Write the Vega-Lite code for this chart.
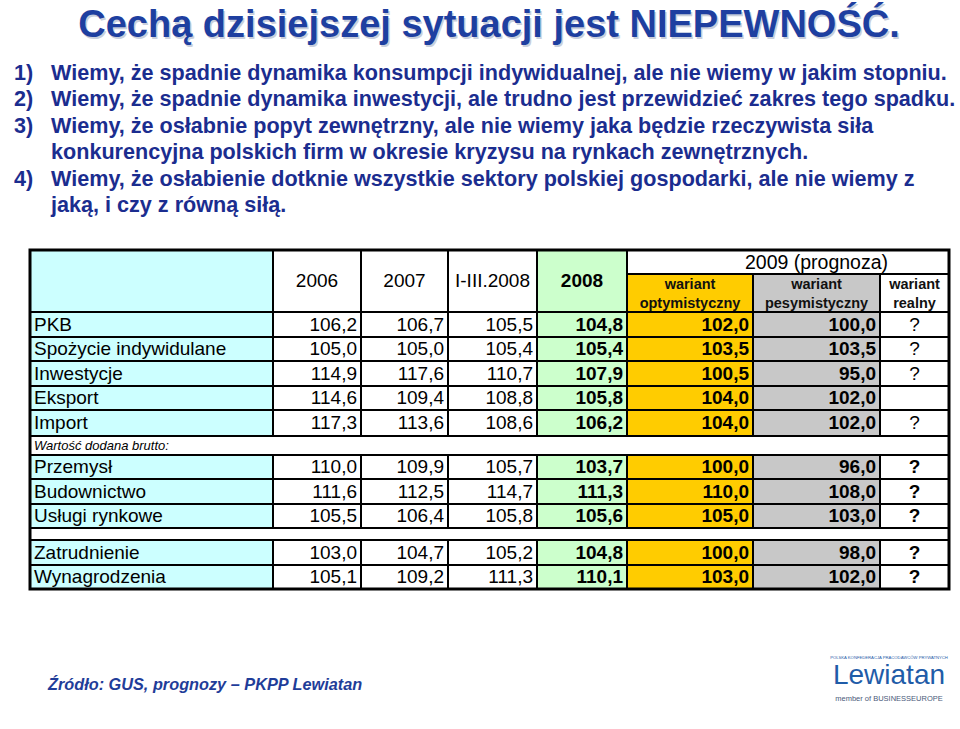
{
  "$schema": "https://vega.github.io/schema/vega-lite/v6.json",
  "width": 960,
  "height": 729,
  "autosize": {"type": "none"},
  "padding": 0,
  "background": "#ffffff",
  "config": {
    "view": {"stroke": null},
    "locale": {"number": {"decimal": ",", "thousands": " ", "grouping": [3], "currency": ["", ""]}},
    "text": {"font": "Liberation Sans"}
  },
  "datasets": {
    "lines": [
      {"kind": "title", "line": 0, "num": "", "text": "Cechą dzisiejszej sytuacji jest NIEPEWNOŚĆ."},
      {"kind": "bullet", "line": 1, "num": "1)", "text": "Wiemy, że spadnie dynamika konsumpcji indywidualnej, ale nie wiemy w jakim stopniu."},
      {"kind": "bullet", "line": 2, "num": "2)", "text": "Wiemy, że spadnie dynamika inwestycji, ale trudno jest przewidzieć zakres tego spadku."},
      {"kind": "bullet", "line": 3, "num": "3)", "text": "Wiemy, że osłabnie popyt zewnętrzny, ale nie wiemy jaka będzie rzeczywista siła"},
      {"kind": "bullet", "line": 4, "num": "", "text": "konkurencyjna polskich firm w okresie kryzysu na rynkach zewnętrznych."},
      {"kind": "bullet", "line": 5, "num": "4)", "text": "Wiemy, że osłabienie dotknie wszystkie sektory polskiej gospodarki, ale nie wiemy z"},
      {"kind": "bullet", "line": 6, "num": "", "text": "jaką, i czy z równą siłą."},
      {"kind": "logo-small", "line": 7, "num": "", "text": "POLSKA KONFEDERACJA PRACODAWCÓW PRYWATNYCH"},
      {"kind": "logo", "line": 8, "num": "", "text": "Lewiatan"},
      {"kind": "source", "line": 9, "num": "", "text": "Źródło: GUS, prognozy – PKPP Lewiatan"},
      {"kind": "logo-member", "line": 10, "num": "", "text": "member of BUSINESSEUROPE"}
    ],
    "header": [
      {"key": "label", "text": "", "c": 0, "c2": 1, "r": 0, "r2": 2},
      {"key": "v2006", "text": "2006", "c": 1, "c2": 2, "r": 0, "r2": 2},
      {"key": "v2007", "text": "2007", "c": 2, "c2": 3, "r": 0, "r2": 2},
      {"key": "vq", "text": "I-III.2008", "c": 3, "c2": 4, "r": 0, "r2": 2},
      {"key": "v2008", "text": "2008", "c": 4, "c2": 5, "r": 0, "r2": 2},
      {"key": "prog", "text": "2009 (prognoza)", "c": 5, "c2": 8, "r": 0, "r2": 1},
      {"key": "opt", "text": "wariant\noptymistyczny", "c": 5, "c2": 6, "r": 1, "r2": 2},
      {"key": "pes", "text": "wariant\npesymistyczny", "c": 6, "c2": 7, "r": 1, "r2": 2},
      {"key": "real", "text": "wariant\nrealny", "c": 7, "c2": 8, "r": 1, "r2": 2}
    ],
    "rows": [
      {"kind": "data", "label": "PKB", "v2006": 106.2, "v2007": 106.7, "vq": 105.5, "v2008": 104.8, "opt": 102.0, "pes": 100.0, "real": "?"},
      {"kind": "data", "label": "Spożycie indywidulane", "v2006": 105.0, "v2007": 105.0, "vq": 105.4, "v2008": 105.4, "opt": 103.5, "pes": 103.5, "real": "?"},
      {"kind": "data", "label": "Inwestycje", "v2006": 114.9, "v2007": 117.6, "vq": 110.7, "v2008": 107.9, "opt": 100.5, "pes": 95.0, "real": "?"},
      {"kind": "data", "label": "Eksport", "v2006": 114.6, "v2007": 109.4, "vq": 108.8, "v2008": 105.8, "opt": 104.0, "pes": 102.0, "real": ""},
      {"kind": "data", "label": "Import", "v2006": 117.3, "v2007": 113.6, "vq": 108.6, "v2008": 106.2, "opt": 104.0, "pes": 102.0, "real": "?"},
      {"kind": "section", "label": "Wartość dodana brutto:"},
      {"kind": "data", "label": "Przemysł", "v2006": 110.0, "v2007": 109.9, "vq": 105.7, "v2008": 103.7, "opt": 100.0, "pes": 96.0, "real": "?"},
      {"kind": "data", "label": "Budownictwo", "v2006": 111.6, "v2007": 112.5, "vq": 114.7, "v2008": 111.3, "opt": 110.0, "pes": 108.0, "real": "?"},
      {"kind": "data", "label": "Usługi rynkowe", "v2006": 105.5, "v2007": 106.4, "vq": 105.8, "v2008": 105.6, "opt": 105.0, "pes": 103.0, "real": "?"},
      {"kind": "blank", "label": ""},
      {"kind": "data", "label": "Zatrudnienie", "v2006": 103.0, "v2007": 104.7, "vq": 105.2, "v2008": 104.8, "opt": 100.0, "pes": 98.0, "real": "?"},
      {"kind": "data", "label": "Wynagrodzenia", "v2006": 105.1, "v2007": 109.2, "vq": 111.3, "v2008": 110.1, "opt": 103.0, "pes": 102.0, "real": "?"}
    ]
  },
  "layer": [
    {
      "data": {"name": "lines"},
      "layer": [
        {
          "transform": [{"filter": "datum.kind === 'title'"}],
          "mark": {"type": "text", "align": "center", "baseline": "alphabetic", "fontSize": 38, "fontWeight": "bold", "color": "#c9cfdc", "dx": 10.5, "dy": 1.5},
          "encoding": {
            "y": {"field": "line", "type": "quantitative", "axis": null, "scale": {"type": "linear", "domain": [0,1,2,3,4,5,6,7,8,9,10], "range": [37,80,106,133,159,186,212,659,684,690,701], "nice": false, "zero": false}},
            "text": {"field": "text"}
          }
        },
        {
          "transform": [{"filter": "datum.kind === 'title'"}],
          "mark": {"type": "text", "align": "center", "baseline": "alphabetic", "fontSize": 38, "fontWeight": "bold", "color": "#1e3fa0", "dx": 9},
          "encoding": {
            "y": {"field": "line", "type": "quantitative", "axis": null, "scale": {"type": "linear", "domain": [0,1,2,3,4,5,6,7,8,9,10], "range": [37,80,106,133,159,186,212,659,684,690,701], "nice": false, "zero": false}},
            "text": {"field": "text"}
          }
        },
        {
          "transform": [{"filter": "datum.kind === 'bullet'"}],
          "mark": {"type": "text", "align": "left", "baseline": "alphabetic", "fontSize": 21.6, "fontWeight": "bold", "color": "#1b2d8f"},
          "encoding": {
            "x": {"datum": 0, "type": "quantitative", "axis": null, "scale": {"type": "linear", "domain": [0,1,2], "range": [14,51,889], "nice": false, "zero": false}},
            "y": {"field": "line", "type": "quantitative", "axis": null, "scale": {"type": "linear", "domain": [0,1,2,3,4,5,6,7,8,9,10], "range": [37,80,106,133,159,186,212,659,684,690,701], "nice": false, "zero": false}},
            "text": {"field": "num"}
          }
        },
        {
          "transform": [{"filter": "datum.kind === 'bullet'"}],
          "mark": {"type": "text", "align": "left", "baseline": "alphabetic", "fontSize": 21.6, "fontWeight": "bold", "color": "#1b2d8f"},
          "encoding": {
            "x": {"datum": 1, "type": "quantitative", "axis": null, "scale": {"type": "linear", "domain": [0,1,2], "range": [14,51,889], "nice": false, "zero": false}},
            "y": {"field": "line", "type": "quantitative", "axis": null, "scale": {"type": "linear", "domain": [0,1,2,3,4,5,6,7,8,9,10], "range": [37,80,106,133,159,186,212,659,684,690,701], "nice": false, "zero": false}},
            "text": {"field": "text"}
          }
        },
        {
          "transform": [{"filter": "datum.kind === 'source'"}],
          "mark": {"type": "text", "align": "left", "baseline": "alphabetic", "fontSize": 16.3, "fontWeight": "bold", "fontStyle": "italic", "color": "#1f3d99", "dx": -3},
          "encoding": {
            "x": {"datum": 1, "type": "quantitative", "axis": null, "scale": {"type": "linear", "domain": [0,1,2], "range": [14,51,889], "nice": false, "zero": false}},
            "y": {"field": "line", "type": "quantitative", "axis": null, "scale": {"type": "linear", "domain": [0,1,2,3,4,5,6,7,8,9,10], "range": [37,80,106,133,159,186,212,659,684,690,701], "nice": false, "zero": false}},
            "text": {"field": "text"}
          }
        },
        {
          "transform": [{"filter": "datum.kind === 'logo'"}],
          "mark": {"type": "text", "align": "center", "baseline": "alphabetic", "fontSize": 28, "color": "#1f5ca8"},
          "encoding": {
            "x": {"datum": 2, "type": "quantitative", "axis": null, "scale": {"type": "linear", "domain": [0,1,2], "range": [14,51,889], "nice": false, "zero": false}},
            "y": {"field": "line", "type": "quantitative", "axis": null, "scale": {"type": "linear", "domain": [0,1,2,3,4,5,6,7,8,9,10], "range": [37,80,106,133,159,186,212,659,684,690,701], "nice": false, "zero": false}},
            "text": {"field": "text"}
          }
        },
        {
          "transform": [{"filter": "datum.kind === 'logo-small'"}],
          "mark": {"type": "text", "align": "center", "baseline": "alphabetic", "fontSize": 4.2, "color": "#1f5ca8"},
          "encoding": {
            "x": {"datum": 2, "type": "quantitative", "axis": null, "scale": {"type": "linear", "domain": [0,1,2], "range": [14,51,889], "nice": false, "zero": false}},
            "y": {"field": "line", "type": "quantitative", "axis": null, "scale": {"type": "linear", "domain": [0,1,2,3,4,5,6,7,8,9,10], "range": [37,80,106,133,159,186,212,659,684,690,701], "nice": false, "zero": false}},
            "text": {"field": "text"}
          }
        },
        {
          "transform": [{"filter": "datum.kind === 'logo-member'"}],
          "mark": {"type": "text", "align": "center", "baseline": "alphabetic", "fontSize": 7.5, "color": "#4a5a7a"},
          "encoding": {
            "x": {"datum": 2, "type": "quantitative", "axis": null, "scale": {"type": "linear", "domain": [0,1,2], "range": [14,51,889], "nice": false, "zero": false}},
            "y": {"field": "line", "type": "quantitative", "axis": null, "scale": {"type": "linear", "domain": [0,1,2,3,4,5,6,7,8,9,10], "range": [37,80,106,133,159,186,212,659,684,690,701], "nice": false, "zero": false}},
            "text": {"field": "text"}
          }
        }
      ]
    },
    {
      "layer": [
        {
          "data": {"name": "header"},
          "mark": {"type": "rect", "stroke": "#000000", "strokeWidth": 2},
          "encoding": {
            "x": {"field": "c", "type": "quantitative", "axis": null, "scale": {"type": "linear", "domain": [0,1,2,3,4,5,6,7,8], "range": [30,273,361,448,537,627,753,880,949], "nice": false, "zero": false}},
            "x2": {"field": "c2"},
            "y": {"field": "r", "type": "quantitative", "axis": null, "scale": {"type": "linear", "domain": [0,1,2,3,4,5,6,7,8,9,10,11,12,13,14], "range": [250,274,312,337,361,386,410,436,455,479,504,528,540,565,589], "nice": false, "zero": false}},
            "y2": {"field": "r2"},
            "fill": {"field": "key", "type": "nominal", "legend": null, "scale": {"domain": ["label","v2006","v2007","vq","v2008","prog","opt","pes","real"], "range": ["#ccffff","#ffffff","#ffffff","#ffffff","#ccffcc","#ffffff","#ffcc00","#c8c8c8","#ffffff"]}}
          }
        },
        {
          "data": {"name": "header"},
          "transform": [
            {"filter": "indexof(['v2006','v2007','vq'], datum.key) >= 0"},
            {"calculate": "(datum.c + datum.c2) / 2", "as": "xm"},
            {"calculate": "(datum.r + datum.r2) / 2", "as": "ym"}
          ],
          "mark": {"type": "text", "align": "center", "baseline": "middle", "fontSize": 19, "color": "#000000", "dy": 7},
          "encoding": {
            "x": {"field": "xm", "type": "quantitative", "axis": null},
            "y": {"field": "ym", "type": "quantitative", "axis": null},
            "text": {"field": "text"}
          }
        },
        {
          "data": {"name": "header"},
          "transform": [
            {"filter": "datum.key === 'v2008'"},
            {"calculate": "(datum.c + datum.c2) / 2", "as": "xm"},
            {"calculate": "(datum.r + datum.r2) / 2", "as": "ym"}
          ],
          "mark": {"type": "text", "align": "center", "baseline": "middle", "fontSize": 19, "fontWeight": "bold", "color": "#000000", "dy": 7},
          "encoding": {
            "x": {"field": "xm", "type": "quantitative", "axis": null},
            "y": {"field": "ym", "type": "quantitative", "axis": null},
            "text": {"field": "text"}
          }
        },
        {
          "data": {"name": "header"},
          "transform": [
            {"filter": "datum.key === 'prog'"},
            {"calculate": "(datum.c + datum.c2) / 2", "as": "xm"},
            {"calculate": "(datum.r + datum.r2) / 2", "as": "ym"}
          ],
          "mark": {"type": "text", "align": "center", "baseline": "middle", "fontSize": 19.5, "color": "#000000", "dy": 1},
          "encoding": {
            "x": {"field": "xm", "type": "quantitative", "axis": null},
            "y": {"field": "ym", "type": "quantitative", "axis": null},
            "text": {"field": "text"}
          }
        },
        {
          "data": {"name": "header"},
          "transform": [
            {"filter": "indexof(['opt','pes','real'], datum.key) >= 0"},
            {"calculate": "(datum.c + datum.c2) / 2", "as": "xm"},
            {"calculate": "(datum.r + datum.r2) / 2", "as": "ym"}
          ],
          "mark": {"type": "text", "align": "center", "baseline": "middle", "fontSize": 14.5, "fontWeight": "bold", "color": "#111111", "lineBreak": "\n", "lineHeight": 19, "dy": -8},
          "encoding": {
            "x": {"field": "xm", "type": "quantitative", "axis": null},
            "y": {"field": "ym", "type": "quantitative", "axis": null},
            "text": {"field": "text"}
          }
        },
        {
          "data": {"name": "rows"},
          "transform": [
            {"window": [{"op": "row_number", "as": "rn"}]},
            {"calculate": "datum.rn + 1", "as": "r"},
            {"calculate": "datum.r + 1", "as": "r2"},
            {"filter": "datum.kind === 'data'"},
            {"fold": ["label","v2006","v2007","vq","v2008","opt","pes","real"], "as": ["key","value"]},
            {"calculate": "indexof(['label','v2006','v2007','vq','v2008','opt','pes','real'], datum.key)", "as": "c"},
            {"calculate": "datum.c + 1", "as": "c2"}
          ],
          "mark": {"type": "rect", "stroke": "#000000", "strokeWidth": 2},
          "encoding": {
            "x": {"field": "c", "type": "quantitative", "axis": null},
            "x2": {"field": "c2"},
            "y": {"field": "r", "type": "quantitative", "axis": null},
            "y2": {"field": "r2"},
            "fill": {"field": "key", "type": "nominal", "legend": null}
          }
        },
        {
          "data": {"name": "rows"},
          "transform": [
            {"window": [{"op": "row_number", "as": "rn"}]},
            {"calculate": "datum.rn + 1", "as": "r"},
            {"calculate": "datum.r + 1", "as": "r2"},
            {"filter": "datum.kind !== 'data'"}
          ],
          "mark": {"type": "rect", "stroke": "#000000", "strokeWidth": 2, "fill": "#ffffff"},
          "encoding": {
            "x": {"datum": 0, "type": "quantitative", "axis": null},
            "x2": {"datum": 8},
            "y": {"field": "r", "type": "quantitative", "axis": null},
            "y2": {"field": "r2"}
          }
        },
        {
          "data": {"name": "rows"},
          "transform": [
            {"window": [{"op": "row_number", "as": "rn"}]},
            {"calculate": "datum.rn + 1.5", "as": "ym"},
            {"filter": "datum.kind === 'data'"}
          ],
          "mark": {"type": "text", "align": "left", "baseline": "middle", "fontSize": 19, "color": "#000000", "dx": 4},
          "encoding": {
            "x": {"datum": 0, "type": "quantitative", "axis": null},
            "y": {"field": "ym", "type": "quantitative", "axis": null},
            "text": {"field": "label"}
          }
        },
        {
          "data": {"name": "rows"},
          "transform": [
            {"window": [{"op": "row_number", "as": "rn"}]},
            {"calculate": "datum.rn + 1.5", "as": "ym"},
            {"filter": "datum.kind === 'section'"}
          ],
          "mark": {"type": "text", "align": "left", "baseline": "middle", "fontSize": 13, "fontStyle": "italic", "color": "#000000", "dx": 4},
          "encoding": {
            "x": {"datum": 0, "type": "quantitative", "axis": null},
            "y": {"field": "ym", "type": "quantitative", "axis": null},
            "text": {"field": "label"}
          }
        },
        {
          "data": {"name": "rows"},
          "transform": [
            {"window": [{"op": "row_number", "as": "rn"}]},
            {"calculate": "datum.rn + 1.5", "as": "ym"},
            {"filter": "datum.kind === 'data'"},
            {"fold": ["v2006","v2007","vq"], "as": ["key","value"]},
            {"calculate": "indexof(['label','v2006','v2007','vq','v2008','opt','pes','real'], datum.key) + 1", "as": "cr"}
          ],
          "mark": {"type": "text", "align": "right", "baseline": "middle", "fontSize": 19, "color": "#000000", "dx": -4},
          "encoding": {
            "x": {"field": "cr", "type": "quantitative", "axis": null},
            "y": {"field": "ym", "type": "quantitative", "axis": null},
            "text": {"field": "value", "type": "quantitative", "format": ".1f"}
          }
        },
        {
          "data": {"name": "rows"},
          "transform": [
            {"window": [{"op": "row_number", "as": "rn"}]},
            {"calculate": "datum.rn + 1.5", "as": "ym"},
            {"filter": "datum.kind === 'data'"},
            {"fold": ["v2008","opt","pes"], "as": ["key","value"]},
            {"calculate": "indexof(['label','v2006','v2007','vq','v2008','opt','pes','real'], datum.key) + 1", "as": "cr"}
          ],
          "mark": {"type": "text", "align": "right", "baseline": "middle", "fontSize": 19, "fontWeight": "bold", "color": "#000000", "dx": -4},
          "encoding": {
            "x": {"field": "cr", "type": "quantitative", "axis": null},
            "y": {"field": "ym", "type": "quantitative", "axis": null},
            "text": {"field": "value", "type": "quantitative", "format": ".1f"}
          }
        },
        {
          "data": {"name": "rows"},
          "transform": [
            {"window": [{"op": "row_number", "as": "rn"}]},
            {"calculate": "datum.rn + 1.5", "as": "ym"},
            {"filter": "datum.kind === 'data' && datum.rn < 6"}
          ],
          "mark": {"type": "text", "align": "center", "baseline": "middle", "fontSize": 19, "color": "#000000"},
          "encoding": {
            "x": {"datum": 7.5, "type": "quantitative", "axis": null},
            "y": {"field": "ym", "type": "quantitative", "axis": null},
            "text": {"field": "real"}
          }
        },
        {
          "data": {"name": "rows"},
          "transform": [
            {"window": [{"op": "row_number", "as": "rn"}]},
            {"calculate": "datum.rn + 1.5", "as": "ym"},
            {"filter": "datum.kind === 'data' && datum.rn > 6"}
          ],
          "mark": {"type": "text", "align": "center", "baseline": "middle", "fontSize": 19, "fontWeight": "bold", "color": "#000000"},
          "encoding": {
            "x": {"datum": 7.5, "type": "quantitative", "axis": null},
            "y": {"field": "ym", "type": "quantitative", "axis": null},
            "text": {"field": "real"}
          }
        },
        {
          "data": {"values": [{}]},
          "mark": {"type": "rect", "stroke": "#000000", "strokeWidth": 3, "fill": null},
          "encoding": {
            "x": {"datum": 0, "type": "quantitative", "axis": null},
            "x2": {"datum": 8},
            "y": {"datum": 0, "type": "quantitative", "axis": null},
            "y2": {"datum": 14}
          }
        }
      ]
    }
  ],
  "resolve": {"scale": {"x": "independent", "y": "independent", "fill": "independent"}}
}
